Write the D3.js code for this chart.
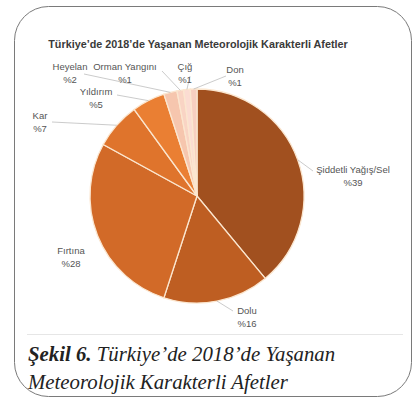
<!DOCTYPE html>
<html><head><meta charset="utf-8">
<script src="https://cdn.jsdelivr.net/npm/d3@7"></script>
<style>html,body{margin:0;padding:0;background:#fff;}svg{display:block;}</style>
</head><body>
<script>
const categories = ["Şiddetli Yağış/Sel","Dolu","Fırtına","Kar","Yıldırım","Heyelan","Orman Yangını","Çığ","Don"];
const values = [39,16,28,7,5,2,1,1,1];
const valueLabels = ["%39","%16","%28","%7","%5","%2","%1","%1","%1"];
const colors = ["#a1501f","#be5e22","#d26a28","#df742c","#ea7f33","#f6c6ae","#f9d4c4","#fbdcd2","#f7cfc0"];
const title = "Türkiye’de 2018’de Yaşanan Meteorolojik Karakterli Afetler";

const W=420,H=403;
const svg=d3.select("body").append("svg").attr("width",W).attr("height",H);
svg.append("rect").attr("x",14.5).attr("y",6.5).attr("width",397).attr("height",390).attr("rx",34).attr("ry",34)
  .attr("fill","#fff").attr("stroke","#7a7a7a").attr("stroke-width",1);

svg.append("text").attr("x",198).attr("y",48).attr("text-anchor","middle")
  .attr("font-family","Liberation Sans, Arial, sans-serif").attr("font-weight","bold").attr("font-size",10.8)
  .attr("fill","#3a3a3a").text(title);

const cx=197,cy=196,r=107;
const g=svg.append("g").attr("transform",`translate(${cx},${cy})`);
const pie=d3.pie().sort(null).value(d=>d);
const arcs=pie(values);
const arc=d3.arc().innerRadius(0).outerRadius(r);
g.selectAll("path").data(arcs).join("path").attr("d",arc)
  .attr("fill",(d,i)=>colors[i]).attr("stroke","#fbe6cf").attr("stroke-width",1.3);

const labelPos = [
  {x:353,y:173},
  {x:247,y:314},
  {x:71,y:254},
  {x:40,y:119},
  {x:96,y:95},
  {x:70,y:70},
  {x:125,y:70},
  {x:185,y:70},
  {x:235,y:73}
];
const lineEnds = [
  [313,171],[233,311],null,[52,122],[117,95],[84,74],[162,71],[190,76],[226,76]
];
const outer=d3.arc().innerRadius(r).outerRadius(r);
arcs.forEach((d,i)=>{
  const c=outer.centroid(d);
  const le=lineEnds[i];
  if(le){
    svg.append("polyline")
      .attr("points",`${cx+c[0]},${cy+c[1]} ${le[0]},${le[1]}`)
      .attr("fill","none").attr("stroke","#b5b5b5").attr("stroke-width",0.7);
  }
  const p=labelPos[i];
  const t=svg.append("text").attr("x",p.x).attr("y",p.y).attr("text-anchor","middle")
    .attr("font-family","Liberation Sans, Arial, sans-serif").attr("font-size",9.5).attr("fill","#555");
  t.append("tspan").attr("x",p.x).text(categories[i]);
  t.append("tspan").attr("x",p.x).attr("dy",13).text(valueLabels[i]);
});

svg.append("line").attr("x1",27).attr("x2",403).attr("y1",334.5).attr("y2",334.5)
  .attr("stroke","#e6e6e6").attr("stroke-width",1);

const cap=svg.append("g").attr("font-family","Liberation Serif, Times New Roman, serif").attr("font-size",20.8).attr("font-style","italic").attr("fill","#222");
const l1=cap.append("text").attr("x",28).attr("y",361);
l1.append("tspan").attr("font-weight","bold").text("Şekil 6.");
l1.append("tspan").text(" Türkiye’de 2018’de Yaşanan");
cap.append("text").attr("x",28).attr("y",389).text("Meteorolojik Karakterli Afetler");
</script>
</body></html>
